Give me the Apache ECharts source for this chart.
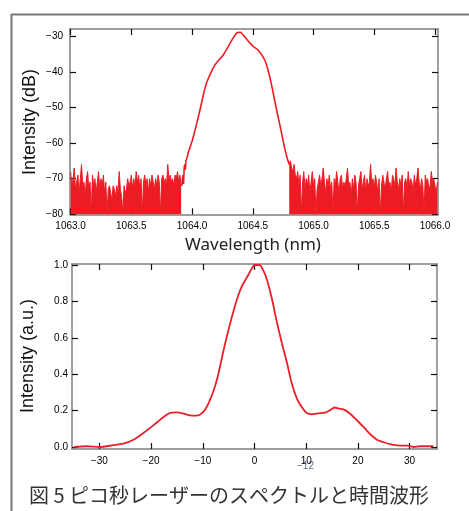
<!DOCTYPE html>
<html>
<head>
<meta charset="utf-8">
<script src="https://cdn.jsdelivr.net/npm/echarts@6/dist/echarts.min.js"></script>
<style>
html,body{margin:0;padding:0;background:#fff;}
#c{width:469px;height:511px;}
</style>
</head>
<body>
<div id="c"></div>
<script>
// ---- Spectrum (top) ----
const wlStep = 0.01;
const noiseLeftStart = 1063.0;
const noiseLeft = [
  -68,-72,-70,-67,-73,-71,-69,-74,-70,-66,
  -72,-71,-75,-70,-68,-73,-71,-80,-69,-72,
  -70,-74,-71,-68,-73,-70,-72,-69,-74,-71,
  -80,-73,-72,-74,-76,-72,-73,-75,-72,-74,
  -68,-73,-75,-80,-72,-74,-73,-70,-72,-71,
  -69,-73,-70,-72,-68,-71,-69,-73,-70,-80,
  -71,-69,-72,-70,-74,-70,-72,-69,-71,-73,
  -70,-72,-69,-71,-80,-70,-69,-71,-70,-72,
  -66,-70,-69,-71,-70,-72,-69,-70,-68,-71,
  -69,-72
];
const noiseRightStart = 1064.80;
const noiseRight = [
  -66,-65,-67,-68,-66,-69,-70,-68,-72,-69,
  -80,-71,-68,-73,-70,-72,-69,-74,-71,-68,
  -72,-70,-80,-73,-71,-69,-72,-70,-67,-71,
  -74,-70,-72,-69,-73,-71,-80,-70,-72,-68,
  -71,-74,-70,-69,-73,-71,-72,-70,-67,-72,
  -71,-75,-70,-73,-69,-71,-80,-72,-70,-68,
  -73,-71,-69,-74,-70,-72,-71,-66,-72,-70,
  -73,-69,-71,-74,-70,-80,-72,-69,-71,-73,
  -70,-68,-72,-71,-74,-69,-70,-72,-67,-71,
  -73,-70,-72,-69,-80,-71,-70,-73,-68,-72,
  -70,-71,-74,-69,-72,-70,-67,-71,-73,-70,
  -72,-80,-69,-71,-70,-73,-72,-68,-71,-70,
  -72,-74,-71
];
const peakWl = [1063.915,1063.925,1063.93,1063.935,1063.94,1063.945,1063.95,1063.96,1063.97,1063.98,
  1064.0,1064.02,1064.04,1064.06,1064.08,1064.10,1064.12,1064.145,1064.17,1064.19,
  1064.22,1064.255,1064.28,1064.31,1064.33,1064.35,1064.37,1064.384,1064.40,1064.42,
  1064.45,1064.475,1064.50,1064.54,1064.57,1064.60,1064.62,1064.64,1064.66,1064.68,
  1064.70,1064.72,1064.74,1064.76,1064.775,1064.79,1064.80];
const peakDb = [-72,-69,-71.5,-67,-66,-67.5,-65,-64,-62.5,-61.5,
  -59.5,-57,-54.3,-51.5,-48.5,-45.5,-43,-41,-39.2,-38,
  -36.7,-35.4,-34,-32.2,-31,-29.9,-29,-28.6,-28.9,-29.6,
  -30.9,-31.9,-32.8,-33.8,-35,-36.8,-38.8,-41.4,-44.6,-48,
  -51.3,-54.5,-57.8,-61,-63.2,-65,-66];
const specXTicks = [1063.0,1063.5,1064.0,1064.5,1065.0,1065.5,1066.0];
const specYTicks = [-80,-70,-60,-50,-40,-30];

// ---- Pulse (bottom) ----
const pulseT = [-34.9,-32.5,-29.9,-27.3,-25.4,-23.4,-21.5,-19.5,-17.6,-16.3,-15.0,-13.7,-12.5,-11.2,-9.9,-8.9,-7.9,-7.0,-6.0,-4.7,-3.4,-2.5,-1.2,-0.2,0.3,1.0,1.7,2.4,3.4,4.3,5.3,6.3,7.2,8.2,9.2,10.1,11.1,12.4,13.7,14.6,15.5,16.3,17.2,18.5,19.8,21.1,22.4,23.7,25.0,26.6,28.2,29.8,30.8,32.1,34.6];
const pulseV = [0.0,0.004,0.0,0.01,0.018,0.04,0.077,0.12,0.165,0.187,0.19,0.183,0.174,0.172,0.193,0.24,0.31,0.40,0.53,0.68,0.81,0.88,0.945,0.996,1.0,1.0,0.97,0.92,0.81,0.69,0.57,0.46,0.35,0.266,0.217,0.187,0.18,0.185,0.189,0.202,0.217,0.211,0.207,0.183,0.147,0.11,0.07,0.04,0.026,0.013,0.007,0.007,0.0,0.004,0.004];
const pulseXTicks = [-30,-20,-10,0,10,20,30];
const pulseYTicks = [0,0.2,0.4,0.6,0.8,1.0];

const RED = '#ec1c24';
const minus = s => String(s).replace('-', '\u2212');

function toPairs(start, arr){ return arr.map((v,i)=>[+(start + i*wlStep).toFixed(4), v]); }

function axis(kind, gridIndex, position, min, max, ticks, showLabel, fmt, margin){
  return {
    type:'value', gridIndex, position, min, max,
    splitLine:{show:false},
    axisLine:{show:true, onZero:false, lineStyle:{color:'#808080', width:1.5}},
    axisTick:{show:true, inside:true, length:6, customValues:ticks, lineStyle:{color:'#111', width:1.2}},
    axisLabel:{show:showLabel, customValues:ticks, formatter:fmt, margin:margin,
      fontFamily:'Liberation Sans', fontSize:10, color:'#000'}
  };
}

const chart = echarts.init(document.getElementById('c'), null, {renderer:'canvas'});
chart.setOption({
  animation:false,
  backgroundColor:'#fff',
  grid:[
    {left:70, top:29, width:368, height:185.3},
    {left:72, top:264, width:365, height:185}
  ],
  xAxis:[
    axis('x',0,'bottom',1062.995,1066.025,specXTicks,true,v=>v.toFixed(1),7),
    axis('x',0,'top',1062.995,1066.025,specXTicks,false,null,7),
    axis('x',1,'bottom',-35.3,35.3,pulseXTicks,true,v=>minus(v.toFixed(0)),7),
    axis('x',1,'top',-35.3,35.3,pulseXTicks,false,null,7)
  ],
  yAxis:[
    axis('y',0,'left',-80,-28,specYTicks,true,v=>minus(v.toFixed(0)),7),
    axis('y',0,'right',-80,-28,specYTicks,false,null,7),
    axis('y',1,'left',-0.011,1.0055,pulseYTicks,true,v=>v.toFixed(1),4),
    axis('y',1,'right',-0.011,1.0055,pulseYTicks,false,null,4)
  ],
  series:[
    {type:'line', xAxisIndex:0, yAxisIndex:0, data:toPairs(noiseLeftStart, noiseLeft), showSymbol:false,
      lineStyle:{color:RED, width:1}, areaStyle:{color:RED, opacity:1, origin:'start'}},
    {type:'line', xAxisIndex:0, yAxisIndex:0, data:toPairs(noiseRightStart, noiseRight), showSymbol:false,
      lineStyle:{color:RED, width:1}, areaStyle:{color:RED, opacity:1, origin:'start'}},
    {type:'line', xAxisIndex:0, yAxisIndex:0, data:peakWl.map((w,i)=>[w,peakDb[i]]), showSymbol:false,
      lineStyle:{color:RED, width:1.6}},
    {type:'line', xAxisIndex:2, yAxisIndex:2, data:pulseT.map((t,i)=>[t,pulseV[i]]), showSymbol:false, smooth:0.25,
      lineStyle:{color:'#e8202a', width:1.8}}
  ],
  graphic:[
    {type:'line', shape:{x1:11, y1:14.5, x2:469, y2:14.5}, style:{stroke:'#777', lineWidth:2}},
    {type:'line', shape:{x1:11.5, y1:14, x2:11.5, y2:511}, style:{stroke:'#777', lineWidth:2}},
    {type:'text', x:30, y:122, rotation:Math.PI/2,
      style:{text:'Intensity (dB)', textAlign:'center', textVerticalAlign:'middle', font:'18px "Liberation Sans"', fill:'#111'}},
    {type:'text', x:253, y:245,
      style:{text:'Wavelength (nm)', textAlign:'center', textVerticalAlign:'middle', font:'17px "Noto Sans"', fill:'#222'}},
    {type:'text', x:28, y:356, rotation:Math.PI/2,
      style:{text:'Intensity (a.u.)', textAlign:'center', textVerticalAlign:'middle', font:'18px "Liberation Sans"', fill:'#111'}},
    {type:'text', x:297, y:461,
      style:{text:'\u221212', font:'10px "Liberation Sans"', fill:'#3a4a6a', opacity:0.8}},
    {type:'text', x:29, y:495,
      style:{text:'図 5 ピコ秒レーザーのスペクトルと時間波形', textAlign:'left', textVerticalAlign:'middle', font:'20px "Noto Sans CJK JP"', fill:'#333'}}
  ]
});
</script>
</body>
</html>
